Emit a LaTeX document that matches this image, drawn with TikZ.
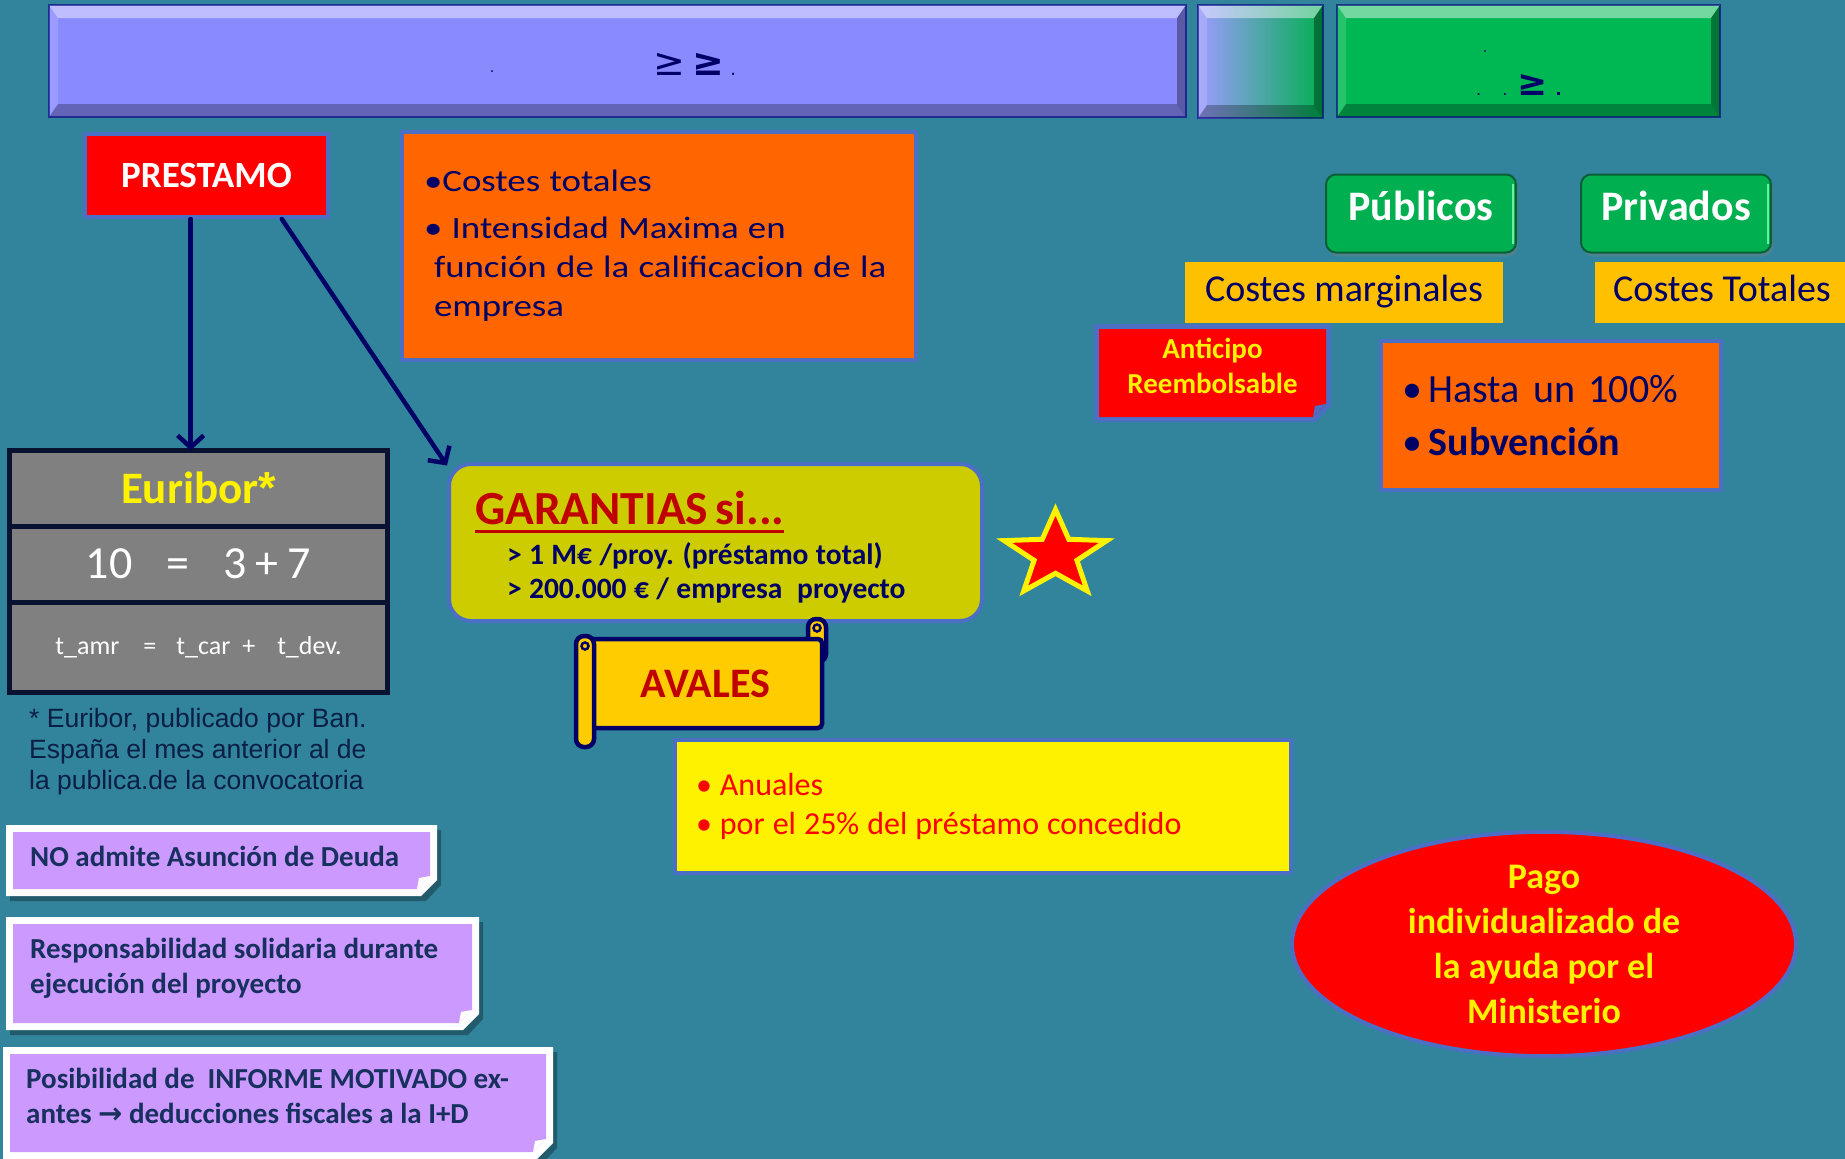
\documentclass[tikz,border=0pt]{standalone}
\usepackage{fontspec}
\setmainfont{Carlito}
\newfontfamily\calancha{Carlito}[FakeStretch=1.19]
\newfontfamily\arialfam{Liberation Sans}
\newfontfamily\dejavu{DejaVu Sans}
\usetikzlibrary{positioning}
\usetikzlibrary{shapes.geometric}
\usetikzlibrary{arrows.meta}
\usetikzlibrary{shadows}

\definecolor{fondo}{HTML}{31849B}
\definecolor{borde}{HTML}{4A6FC4}
\definecolor{marino}{HTML}{000066}
\definecolor{granate}{HTML}{C00000}
\definecolor{naranja}{HTML}{FF6600}
\definecolor{oliva}{HTML}{CCCC00}
\definecolor{ambar}{HTML}{FFC000}
\definecolor{oro}{HTML}{FFCC00}
\definecolor{lila}{HTML}{CC99FF}
\definecolor{notatexto}{HTML}{17305E}
\definecolor{verde}{HTML}{00B050}
\definecolor{verdeclaro}{HTML}{6BF0A0}
\definecolor{verdeoscuro}{HTML}{0B5E36}
\definecolor{gris}{HTML}{808080}
\definecolor{tinta}{HTML}{0A1232}
\definecolor{azulbarra}{HTML}{8A8AFF}
\definecolor{lavanda}{HTML}{9C9CFF}
\definecolor{hielo}{HTML}{E8F0FF}
\definecolor{verdebarra}{HTML}{00B853}
\definecolor{pie}{HTML}{0B1E45}

\newcommand\fsz[2]{\fontsize{#1}{#2}\selectfont}
\newcommand\apretado{\spaceskip=.25em\xspaceskip=.3em\relax}
\newsavebox\cajasub
\newcommand\subraya[1]{\sbox\cajasub{#1}\rlap{\rule[-9pt]{\wd\cajasub}{3.5pt}}\usebox\cajasub}

% bevelled bar: x1 y1 x2 y2 fill
\newcommand\barra[5]{
  \path[#5] (#1,#2) rectangle (#3,#4);
  \fill[white,opacity=0.45] (#1,#2) -- (#3,#2) -- (#3-9,#2+13) -- (#1+9,#2+13) -- cycle;
  \fill[black,opacity=0.28] (#1,#4) -- (#3,#4) -- (#3-9,#4-13) -- (#1+9,#4-13) -- cycle;
  \fill[white,opacity=0.15] (#1,#2) -- (#1+9,#2+13) -- (#1+9,#4-13) -- (#1,#4) -- cycle;
  \fill[black,opacity=0.35] (#3,#2) -- (#3-9,#2+13) -- (#3-9,#4-13) -- (#3,#4) -- cycle;
  \draw[black!50!blue,opacity=0.6,line width=1.5pt] (#1,#2) rectangle (#3,#4);
}
% sheet with folded corner: x1 y1 x2 y2 frame fill thickness
\newcommand\hoja[7]{
  \fill[#5] (#1,#2) -- (#3,#2) -- (#3,#4-16) -- (#3-16,#4) -- (#1,#4) -- cycle;
  \fill[#6] (#1+#7,#2+#7) -- (#3-#7,#2+#7) -- (#3-#7,#4-13-#7) -- (#3-13-#7,#4-#7) -- (#1+#7,#4-#7) -- cycle;
  \fill[#5] (#3-#7,#4-13-#7) -- (#3-13-#7,#4-#7) -- (#3-11-#7,#4-11-#7) -- cycle;
}
\newcommand\sombra[4]{
  \fill[black,opacity=0.3] (#1+4,#2+5) -- (#3+4,#2+5) -- (#3+4,#4-11) -- (#3-11,#4+5) -- (#1+4,#4+5) -- cycle;
}

\begin{document}
\begin{tikzpicture}[x=1pt,y=-1pt,
  caja/.style={draw=borde,line width=4pt,inner sep=0pt},
  tabla/.style={draw=tinta,line width=5pt,fill=gris,minimum width=378pt,inner sep=0pt,outer sep=0pt},
  signo/.style={text=marino,font=\dejavu\fsz{38}{38},inner sep=0pt},
  boton/.style={rectangle,rounded corners=10pt,fill=verde,draw=verdeoscuro,line width=2pt,
    text=white,font=\fsz{42}{48}\bfseries,minimum width=190pt,minimum height=78pt,text height=25pt,text depth=12pt,
    drop shadow={shadow xshift=2pt,shadow yshift=-4pt,opacity=0.35}},
  etiqueta/.style={fill=ambar,text=marino,font=\fsz{38}{42},minimum height=61pt,inner sep=0pt,text height=27pt,text depth=9pt},
  rollo/.style={fill=oro,draw=marino,line width=4.5pt,rounded corners=8pt},
  notatxt/.style={anchor=base west,inner sep=0pt,align=left,text=notatexto,font=\fsz{29}{35}\bfseries},
  arr/.style={draw=marino,line width=4.5pt,line cap=round,-{Straight Barb[length=12pt,width=26pt]}}]

  \useasboundingbox (0,0) rectangle (1845,1159);
  \fill[fondo] (0,0) rectangle (1845,1159);

  % top bars
  \barra{49}{5}{1186}{117}{fill=azulbarra}
  \barra{1198}{5}{1323}{118}{left color=lavanda,middle color=hielo,right color=verde}
  \barra{1337}{5}{1720}{117}{fill=verdebarra}
  \node[signo] (punto1) at (492,72) {\fsz{14}{14}.};
  \node[signo] (signos1) at (695,64) {≥\,{\bfseries ≥}\,\fsz{18}{18}.};
  \node[signo] (punto2) at (1485,52) {\fsz{14}{14}.};
  \node[signo,anchor=base west] (signos2) at (1476,95) {\fsz{16}{16}.\hspace{21pt}.\hspace{10pt}\fsz{36}{36}\bfseries ≥\hspace{8pt}\fsz{16}{16}.};

  % prestamo
  \node[caja,fill=red,text=white,font=\fsz{37}{40}\bfseries,minimum width=243pt,minimum height=83pt] (prestamo) at (206.5,175.5) {PRESTAMO};
  \node[caja,fill=naranja,text=marino,font=\calancha\fsz{31}{39},align=left,minimum width=514pt,minimum height=228pt,
    text width=470pt,inner xsep=22pt] (costes) at (659,246)
    {\spaceskip=.3em\relax •Costes totales\\[8pt]• Intensidad Maxima en\\\hspace*{10pt}función de la calificacion de la\\\hspace*{10pt}empresa};

  % euribor
  \node[tabla,font=\fsz{45}{50}\bfseries,text=yellow,minimum height=75.5pt] (eurtit) at (198.5,488.25) {Euribor{\arialfam *}};
  \node[tabla,font=\fsz{46}{50},text=white,minimum height=76pt,below=0pt of eurtit] (eurnum) {10\hspace{34pt}=\hspace{34pt}3\hspace{9pt}+\hspace{9pt}7};
  \node[tabla,font=\fsz{26}{30},text=white,minimum height=90.5pt,below=0pt of eurnum] (eurfor)
    {t\_amr\hspace{24pt}=\hspace{20pt}t\_car\hspace{12pt}+\hspace{22pt}t\_dev.};
  \node[anchor=north west,inner sep=0pt,align=left,text=pie,font=\arialfam\fsz{26.5}{31}] (llamada) at (29,708)
    {* Euribor, publicado por Ban.\\España el mes anterior al de\\la publica.de la convocatoria};

  % garantias
  \node[caja,fill=oliva,rounded corners=22pt,minimum width=533pt,minimum height=157pt,text width=481pt,inner xsep=26pt,
    align=left,text=marino,font=\fsz{29.5}{34}\bfseries] (garantias) at (715.5,542.5)
    {\apretado\rule{0pt}{42pt}{\fsz{47.5}{50}\color{granate}\subraya{GARANTIAS si...}}\\[6pt]\hspace*{32pt}> 1 M€ /proy. (préstamo total)\\\hspace*{32pt}> 200.000 € / empresa\ \ proyecto};
  \draw[fill=red,draw=yellow,line width=5pt,line join=miter]
    plot[samples at={0,...,9}] ({1055.5+ifthenelse(mod(\x,2)==0,54,22.5)*sin(36*\x)},{554.5-ifthenelse(mod(\x,2)==0,45,18.8)*cos(36*\x)}) -- cycle;

  % avales
  \draw[rollo] (808,619) rectangle (826,662);
  \node[fill=oro,draw=marino,line width=4.5pt,rounded corners=4pt,minimum width=233pt,minimum height=89pt,
    text=granate,font=\fsz{42}{48}\bfseries] (avales) at (705.5,683.5) {AVALES};
  \draw[rollo] (576,636) rectangle (594,747);
  \draw[marino,line width=2.5pt] (585,646) circle (3.5);
  \draw[marino,line width=2.5pt] (817,628) circle (3.5);
  \node[caja,fill=yellow,text=red,font=\fsz{32}{39},minimum width=616pt,minimum height=133pt,text width=574pt,inner xsep=21pt,align=left] (avalinfo) at (983,806.5)
    {\apretado • Anuales\\• por el 25\% del préstamo concedido};

  % right side
  \node[boton] (publicos) at (1421,213.5) {Públicos};
  \node[boton] (privados) at (1676,213.5) {Privados};
  \draw[verdeclaro,line width=2.5pt] ([xshift=-4pt,yshift=-10pt]publicos.north east) -- ([xshift=-4pt,yshift=10pt]publicos.south east);
  \draw[verdeclaro,line width=2.5pt] ([xshift=-4pt,yshift=-10pt]privados.north east) -- ([xshift=-4pt,yshift=10pt]privados.south east);
  \node[etiqueta,minimum width=318pt] (marginales) at (1344,292.5) {Costes marginales};
  \node[etiqueta,minimum width=254pt] (totales) at (1722,292.5) {Costes Totales};
  \hoja{1094}{324}{1331}{422}{borde}{red}{5}
  \node[text=yellow,font=\fsz{29}{35}\bfseries,align=center] (anticipo) at (1212.5,365.5) {Anticipo\\Reembolsable};
  \node[caja,fill=naranja,text=marino,font=\fsz{40}{53},minimum width=340pt,minimum height=149pt,text width=298pt,inner xsep=21pt,align=left] (subvencion) at (1551,415.5)
    {•\,Hasta un 100\%\\•\,{\bfseries Subvención}};
  \node[ellipse,fill=red,draw=borde,line width=4pt,minimum width=504pt,minimum height=202pt,inner sep=0pt,align=center,
    text=yellow,font=\fsz{36}{45}\bfseries] (pago) at (1544,944) {Pago\\individualizado de\\la ayuda por el\\Ministerio};

  % notes
  \sombra{6}{825}{437}{896}
  \hoja{6}{825}{437}{896}{white}{lila}{7}
  \node[notatxt] (nota1) at (30,866) {NO admite Asunción de Deuda};
  \sombra{6}{917}{479}{1030}
  \hoja{6}{917}{479}{1030}{white}{lila}{7}
  \node[notatxt] (nota2) at (30,993) {Responsabilidad solidaria durante\\ejecución del proyecto};
  \sombra{3}{1047}{553}{1159}
  \hoja{3}{1047}{553}{1159}{white}{lila}{7}
  \node[notatxt] (nota3) at (26,1123) {Posibilidad de\ \ INFORME MOTIVADO ex-\\antes {\dejavu →} deducciones fiscales a la I+D};

  % arrows
  \draw[arr] (prestamo.250) -- (prestamo.250 |- eurtit.north);
  \draw[arr] (prestamo.330) -- (garantias.164);

\end{tikzpicture}
\end{document}
